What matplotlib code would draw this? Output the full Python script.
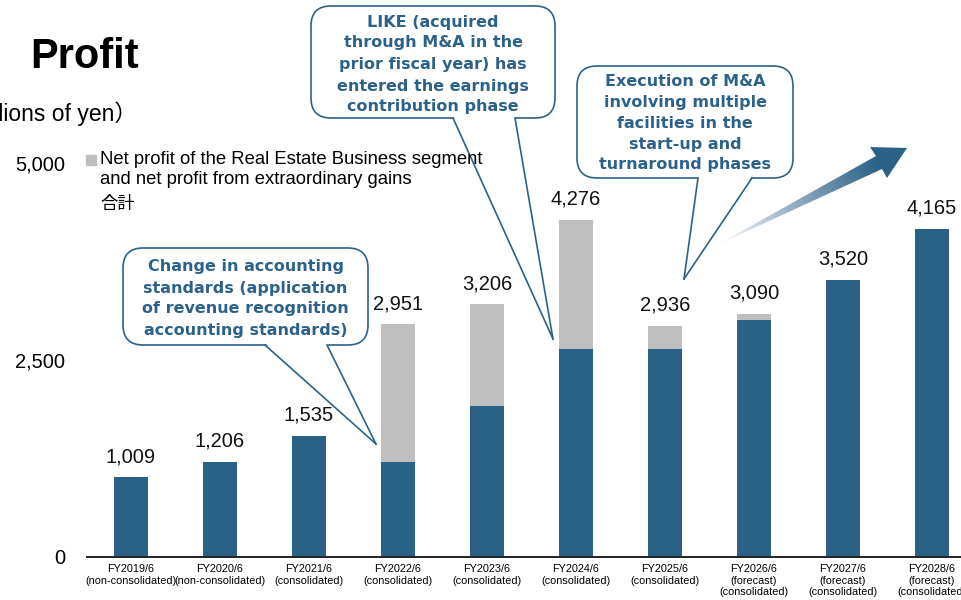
import matplotlib
matplotlib.use("Agg")
import matplotlib.pyplot as plt
import numpy as np
from matplotlib.patches import FancyBboxPatch, Polygon, Rectangle
from matplotlib.colors import LinearSegmentedColormap

plt.rcParams['font.family'] = ['Liberation Sans', 'Noto Sans CJK JP']

# ---------------- data ----------------
categories = ["FY2019/6\n(non-consolidated)", "FY2020/6\n(non-consolidated)",
              "FY2021/6\n(consolidated)", "FY2022/6\n(consolidated)",
              "FY2023/6\n(consolidated)", "FY2024/6\n(consolidated)",
              "FY2025/6\n(consolidated)", "FY2026/6\n(forecast)\n(consolidated)",
              "FY2027/6\n(forecast)\n(consolidated)", "FY2028/6\n(forecast)\n(consolidated)"]
core_profit = [1009, 1206, 1535, 1200, 1914, 2645, 2645, 3004, 3520, 4165]
real_estate_profit = [0, 0, 0, 1751, 1292, 1631, 291, 86, 0, 0]
totals = [1009, 1206, 1535, 2951, 3206, 4276, 2936, 3090, 3520, 4165]
y_ticks = [0, 2500, 5000]
y_tick_labels = ["0", "2,500", "5,000"]

BLUE = "#2a6187"
GRAY = "#bfbfbf"
CALL = "#2c628a"

W, H = 961, 600
fig = plt.figure(figsize=(W / 100, H / 100), dpi=100)
ax = fig.add_axes([86.5 / W, 43 / H, 890 / W, 394 / H])

x = np.arange(len(categories))
ax.bar(x, core_profit, width=0.39, color=BLUE, zorder=2)
ax.bar(x, real_estate_profit, width=0.39, bottom=core_profit, color=GRAY, zorder=2)
for i, t in enumerate(totals):
    ax.annotate(f"{t:,}", (i, t), xytext=(0, 8), textcoords="offset points",
                ha="center", va="bottom", fontsize=14.5, color="#111111")

ax.set_xlim(-0.5, 9.5)
ax.set_ylim(0, 5000)
ax.set_yticks(y_ticks)
ax.set_yticklabels(y_tick_labels, fontsize=14.5)
ax.set_xticks(x)
ax.set_xticklabels(categories, fontsize=7.8)
ax.tick_params(axis="y", length=0, pad=15.5)
ax.tick_params(axis="x", length=0, pad=5)
for s in ["top", "right", "left"]:
    ax.spines[s].set_visible(False)
ax.spines["bottom"].set_color("#222222")
ax.spines["bottom"].set_linewidth(1.4)

# ---------------- overlay in pixel coordinates ----------------
ov = fig.add_axes([0, 0, 1, 1], zorder=5)
ov.patch.set_alpha(0)
ov.axis("off")

ov.text(30, 68, "Profit", fontsize=30, fontweight="bold", va="baseline", ha="left")
ov.text(137, 114, "（Unit: millions of yen）", fontsize=16.5, ha="right", va="center")

ov.add_patch(Rectangle((86, 155), 10, 10, color=GRAY, zorder=6))
ov.text(100, 160, "Net profit of the Real Estate Business segment", fontsize=13.3,
        va="center", zorder=6)
ov.text(100, 179, "and net profit from extraordinary gains", fontsize=13.3,
        va="center", zorder=6)
ov.text(100, 204, "合計", fontsize=12.5, va="center", zorder=6)


def callout(x0, y0, x1, y1, b1, b2, tip, lines, ys, r=20):
    box = FancyBboxPatch((x0, y0), x1 - x0, y1 - y0,
                         boxstyle=f"round,pad=0,rounding_size={r}",
                         fc="white", ec=CALL, lw=1.2, zorder=3)
    ov.add_patch(box)
    ov.add_patch(Polygon([(b1, y1 - 2), tip, (b2, y1 - 2)], closed=True,
                         fc="white", ec="none", zorder=4))
    ov.plot([b1, tip[0]], [y1, tip[1]], color=CALL, lw=1.2, zorder=4)
    ov.plot([b2, tip[0]], [y1, tip[1]], color=CALL, lw=1.2, zorder=4)
    cx = (x0 + x1) / 2
    for ln, yy in zip(lines, ys):
        ov.text(cx, yy, ln, ha="center", va="center", fontsize=11.5,
                fontweight="bold", family="DejaVu Sans", color=CALL, zorder=5)


callout(123, 248, 368, 345, 265, 327, (376, 444),
        ["Change in accounting", "standards (application",
         "of revenue recognition", "accounting standards)"],
        [267, 288, 309, 330])
callout(311, 6, 555, 118, 453, 515, (553, 339),
        ["LIKE (acquired", "through M&A in the", "prior fiscal year) has",
         "entered the earnings", "contribution phase"],
        [22, 43, 64, 86, 107])
callout(577, 66, 793, 178, 698, 752, (684, 279),
        ["Execution of M&A", "involving multiple", "facilities in the",
         "start-up and", "turnaround phases"],
        [81, 102, 123, 144, 165])

# gradient arrow
arrow_pts = [(717, 245), (876, 156), (870, 147), (907, 148), (887, 178), (882, 169)]
arrow = Polygon(arrow_pts, closed=True, fc="none", ec="none")
ov.add_patch(arrow)
xs = np.linspace(700, 915, 300)
ys = np.linspace(140, 255, 200)
X, Y = np.meshgrid(xs, ys)
d = np.array([907 - 717, 148 - 245], dtype=float)
L = np.linalg.norm(d)
d /= L
t = ((X - 717) * d[0] + (Y - 245) * d[1]) / (L * 0.85)
t = np.clip(t, 0, 1)
cmap = LinearSegmentedColormap.from_list("g", ["#ffffff", "#8fa9bf", BLUE])
im = ov.imshow(t, extent=(700, 915, 255, 140), cmap=cmap, vmin=0, vmax=1,
               origin="upper", interpolation="bilinear", aspect="auto", zorder=3)
im.set_clip_path(arrow)

ov.set_xlim(0, W)
ov.set_ylim(H, 0)

fig.savefig("out.png", dpi=100)
